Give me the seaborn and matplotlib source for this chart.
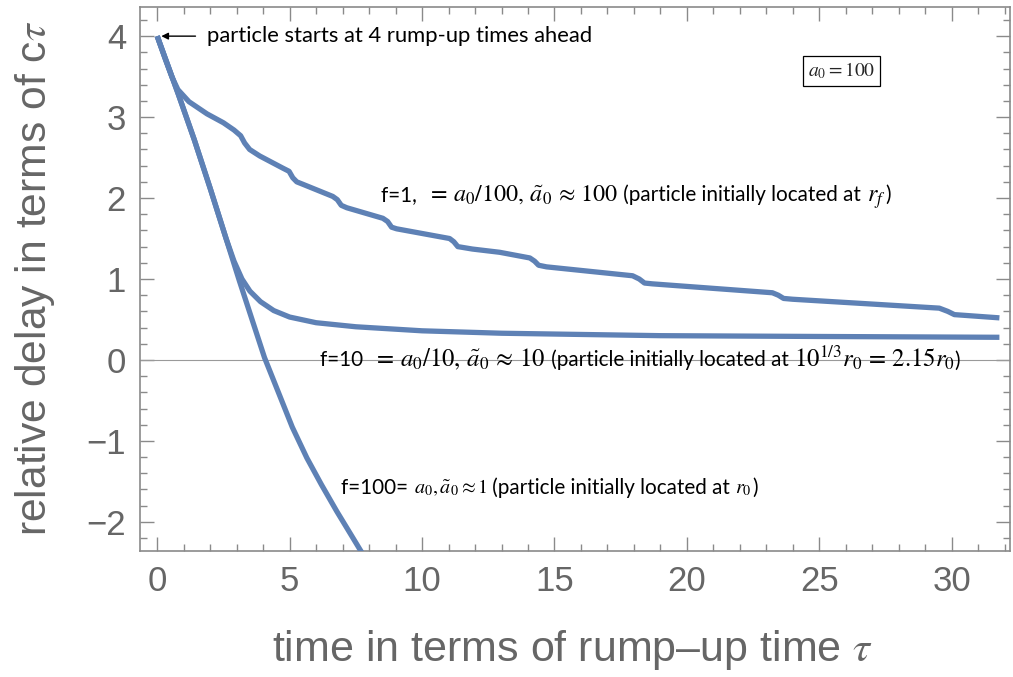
import numpy as np
import pandas as pd
import matplotlib
matplotlib.use("Agg")
import matplotlib.pyplot as plt
from matplotlib.ticker import MultipleLocator
import matplotlib.transforms as mtransforms
import seaborn as sns

# ---- data ----
t_f1 = [0.0, 0.3, 0.55, 0.78, 1.2, 1.88, 2.5, 2.9, 3.15, 3.3, 3.49, 3.87, 4.74, 4.98, 5.12, 5.27, 5.5,
        6.63, 6.8, 6.95, 7.16, 8.52, 8.7, 8.85, 9.04, 11.04, 11.2, 11.35, 11.9, 12.93, 14.07, 14.25, 14.4, 14.7,
        17.95, 18.2, 18.4, 18.7, 23.23, 23.45, 23.65, 23.99, 29.53, 29.85, 30.1, 31.8]
d_f1 = [4.0, 3.72, 3.5, 3.34, 3.19, 3.04, 2.93, 2.84, 2.77, 2.68, 2.60, 2.52, 2.37, 2.33, 2.25, 2.20, 2.17,
        2.02, 1.98, 1.91, 1.88, 1.75, 1.71, 1.64, 1.62, 1.50, 1.46, 1.40, 1.37, 1.33, 1.26, 1.22, 1.17, 1.15,
        1.04, 1.00, 0.95, 0.94, 0.83, 0.80, 0.76, 0.75, 0.64, 0.60, 0.56, 0.52]

t_f10 = [0.0, 0.4, 0.8, 1.4, 2.0, 2.6, 2.9, 3.2, 3.5, 3.9, 4.4, 5.0, 6.0, 7.5, 10.0, 13.0,
         19.0, 25.0, 31.8]
d_f10 = [4.0, 3.64, 3.28, 2.72, 2.12, 1.5, 1.22, 1.0, 0.85, 0.72, 0.61, 0.53, 0.46, 0.41,
         0.36, 0.33, 0.30, 0.29, 0.28]

t_f100 = [0.0, 0.4, 0.8, 1.4, 2.0, 2.6, 3.1, 3.6, 4.05, 4.6, 5.1, 5.65, 6.2, 6.78, 7.3, 7.8]
d_f100 = [4.0, 3.64, 3.28, 2.72, 2.12, 1.5, 0.98, 0.48, 0.03, -0.42, -0.83, -1.21, -1.54,
          -1.87, -2.15, -2.42]

x_major = [0, 5, 10, 15, 20, 25, 30]
y_major = [-2, -1, 0, 1, 2, 3, 4]
y_labels = ["\u22122", "\u22121", "0", "1", "2", "3", "4"]

# ---- style ----
sns.set_theme(style="white")
plt.rcParams["font.family"] = ["Liberation Sans", "DejaVu Sans"]
plt.rcParams["mathtext.fontset"] = "stix"

line_color = "#5E81B5"
gray = "#666666"
frame = "#8a8a8a"
SANS = ["Lato", "DejaVu Sans"]

fig = plt.figure(figsize=(10.13, 6.77), dpi=100)
ax = fig.add_axes([140 / 1013, 1 - 551 / 677, (1010 - 140) / 1013, (551 - 7) / 677])

ax.axhline(0, color="#9a9a9a", lw=0.8, zorder=1)

for t, d in [(t_f100, d_f100), (t_f10, d_f10), (t_f1, d_f1)]:
    df = pd.DataFrame({"t": t, "d": d})
    sns.lineplot(data=df, x="t", y="d", ax=ax, sort=False, color=line_color,
                 lw=3.8, estimator=None, zorder=3, solid_capstyle="butt",
                 solid_joinstyle="round")

ax.set_xlim(-0.65, 32.2)
ax.set_ylim(-2.36, 4.36)

ax.set_xticks(x_major)
ax.set_yticks(y_major)
ax.set_yticklabels(y_labels)
ax.xaxis.set_minor_locator(MultipleLocator(1))
ax.yaxis.set_minor_locator(MultipleLocator(0.2))
ax.tick_params(which="both", direction="in", top=True, right=True, bottom=True, left=True,
               color=frame, width=1.0)
ax.tick_params(which="major", length=10, labelsize=25, labelcolor=gray, pad=10)
ax.tick_params(which="minor", length=5)
for s in ax.spines.values():
    s.set_color(frame)
    s.set_linewidth(1.2)

ax.set_xlabel("time in terms of rump\u2013up time $\\tau$", fontsize=31, color=gray, va="center")
ax.xaxis.set_label_coords(0.4966, -0.182)
ax.set_ylabel("relative delay in terms of c$\\tau$", fontsize=30.7, color=gray, va="center")
ax.yaxis.set_label_coords(-0.1207, 0.502)

# ---- annotations ----
ax.annotate("", xy=(0.05, 4.0), xytext=(1.55, 4.0),
            arrowprops=dict(arrowstyle="-|>", color="black", lw=1.0, mutation_scale=10))
ax.text(1.88, 4.0, "particle starts at 4 rump-up times ahead", fontsize=15.8,
        family=SANS, va="center", ha="left", color="black")

renderer = fig.canvas.get_renderer()


def chain(x, y, pieces):
    """Place text pieces one after another on a common baseline."""
    dx = 0.0
    for s, size, fam in pieces:
        tr = mtransforms.offset_copy(ax.transData, fig=fig, x=dx, y=0, units="dots")
        kw = dict(fontsize=size, va="baseline", ha="left", transform=tr, color="black")
        if fam is not None:
            kw["family"] = fam
        t = ax.text(x, y, s, **kw)
        dx += t.get_window_extent(renderer).width


SS = 14.9
chain(8.44, 1.96, [("f=1,  ", SS, SANS),
                   ("$=\\,a_0/100,\\,\\tilde{a}_0\\,\\approx\\,100$", 17.3, None),
                   (" (particle initially located at ", SS, SANS),
                   ("$r_f$", 17.3, None), (")", SS, SANS)])
chain(6.14, -0.08, [("f=10  ", SS, SANS),
                    ("$=\\,a_0/10,\\,\\tilde{a}_0\\,\\approx\\,10$", 17.8, None),
                    (" (particle initially located at ", SS, SANS),
                    ("$10^{1/3}r_0\\,=\\,2.15r_0$", 17.8, None), (")", SS, SANS)])
chain(6.95, -1.65, [("f=100= ", SS, SANS),
                    ("$a_0, \\tilde{a}_0 \\approx 1$", 14.5, None),
                    (" (particle initially located at ", SS, SANS),
                    ("$r_0$", 14.5, None), (")", SS, SANS)])

ax.text(25.85, 3.57, "$a_0 = 100$", fontsize=14, va="center", ha="center",
        bbox=dict(boxstyle="square,pad=0.25", fc="white", ec="black", lw=0.9))

fig.savefig("out.png", dpi=100)
